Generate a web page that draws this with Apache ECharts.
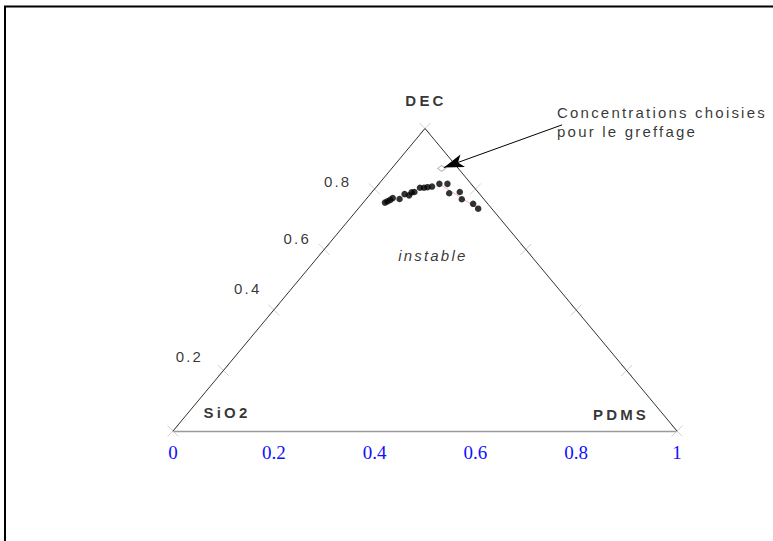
<!DOCTYPE html>
<html><head><meta charset="utf-8">
<script src="https://cdn.jsdelivr.net/npm/echarts@6.0.0/dist/echarts.min.js"></script>
<style>
html,body{margin:0;padding:0;background:#fff;}
#chart{width:773px;height:541px;}
#chart text{letter-spacing:2.2px;}
#chart text[style*="bold"]{letter-spacing:3.2px;}
#chart text[style*="Serif"]{letter-spacing:0;}
</style></head><body><div id="chart"></div>
<script>
// Ternary data: DEC fraction and PDMS fraction (SiO2 = 1 - DEC - PDMS)
const decValues  = [0.755,0.759,0.764,0.770,0.767,0.783,0.779,0.789,0.790,0.804,0.804,0.806,0.808,0.817,0.817,0.786,0.790,0.766,0.751,0.735];
const pdmsValues = [0.043,0.046,0.049,0.051,0.066,0.068,0.079,0.079,0.084,0.088,0.096,0.102,0.110,0.120,0.136,0.155,0.174,0.190,0.220,0.238];
const trendDec  = [0.817, 0.735];
const trendPdms = [0.120, 0.238];
const chosenDec = [0.868];
const chosenPdms = [0.099];
const arrowDec  = [1.012, 0.871];
const arrowPdms = [0.266, 0.102];
const sideTickLevels = [0.2, 0.4, 0.6, 0.8];
const sideTickLabels = ['0.2', '0.4', '0.6', '0.8'];
const baseTickLabels = ['0', '0.2', '0.4', '0.6', '0.8', '1'];
const vertexNames = ['SiO2', 'PDMS', 'DEC'];
const regionLabel = 'instable';
const annotationLines = ['Concentrations choisies', 'pour le greffage'];

function tern(dec, pdms) { return [pdms + dec / 2, dec]; }

const SANS = 'Liberation Sans';
const sideLabelOffsets = [[-34,-14.5],[-26,-22],[-27,-11],[-37,-8]];
const vertexOffsets = [[54,-18.5],[-56,-17],[1,-28.5]];

const tickData = [];
sideTickLevels.forEach((d, i) => {
  tickData.push({value: tern(d, 0), label: {show: true, formatter: sideTickLabels[i], position: 'inside',
    offset: sideLabelOffsets[i], color: '#000', fontFamily: SANS, fontSize: 15}});
  tickData.push({value: tern(d, 1 - d)});
});
const vertices = [tern(0,0), tern(0,1), tern(1,0)];
vertices.forEach((v, i) => {
  tickData.push({value: v, label: {show: true, formatter: vertexNames[i], position: 'inside',
    offset: vertexOffsets[i], color: '#000', fontFamily: SANS, fontSize: 15, fontWeight: 'bold'}});
});

const chart = echarts.init(document.getElementById('chart'), null, {renderer: 'svg'});
chart.setOption({
  animation: false,
  backgroundColor: '#fff',
  grid: {left: 173, right: 96, top: 7.5, bottom: 110, containLabel: false},
  xAxis: {type: 'value', min: 0, max: 1, interval: 0.2,
    axisLine: {show: true, lineStyle: {color: '#9a9a9a', width: 1.3}},
    axisTick: {show: false}, splitLine: {show: false},
    axisLabel: {color: '#1010ff', fontFamily: 'Liberation Serif', fontSize: 19, margin: 12,
      formatter: v => baseTickLabels[Math.round(v / 0.2)]}},
  yAxis: {type: 'value', min: 0, max: 1.4, show: false},
  graphic: [{type: 'polyline', shape: {points: [[5, 541], [5, 6.5], [773, 6.5]]},
    style: {stroke: '#000', lineWidth: 2, fill: null}, silent: true}],
  series: [
    {type: 'line', data: [vertices[0], vertices[2], vertices[1]], symbol: 'none',
      lineStyle: {color: '#333', width: 1}, z: 2},
    {type: 'scatter', data: tickData, symbol: 'path://M0,0L10,10M10,0L0,10', symbolSize: 11,
      itemStyle: {color: 'none', borderColor: '#c4c4c4', borderWidth: 1}, z: 1},
    {type: 'line', data: trendDec.map((d, i) => tern(d, trendPdms[i])), symbol: 'none',
      lineStyle: {color: '#f2b4b4', width: 1}, z: 2},
    {type: 'scatter', data: decValues.map((d, i) => tern(d, pdmsValues[i])), symbolSize: 6.5,
      itemStyle: {color: '#000'}, z: 3},
    {type: 'scatter', data: chosenDec.map((d, i) => tern(d, chosenPdms[i])), symbol: 'diamond',
      symbolSize: [8, 6], itemStyle: {color: '#fff', borderColor: '#aaa', borderWidth: 1}, z: 3},
    {type: 'lines', coordinateSystem: 'cartesian2d',
      data: [{coords: arrowDec.map((d, i) => tern(d, arrowPdms[i]))}],
      symbol: ['none', 'arrow'], symbolSize: [1, [10, 20]],
      lineStyle: {color: '#000', width: 1, opacity: 1}, z: 4},
    {type: 'scatter', symbolSize: 0, z: 5,
      data: [
        {value: tern(0.579, 0.226), label: {show: true, position: 'inside', formatter: regionLabel,
          color: '#000', fontFamily: SANS, fontSize: 15, fontStyle: 'italic'}},
        {value: [0.762, 1.023], label: {show: true, position: 'inside', align: 'left', verticalAlign: 'middle',
          formatter: annotationLines.join('\n'), lineHeight: 19,
          color: '#000', fontFamily: SANS, fontSize: 15}}
      ]}
  ]
});
</script></body></html>
